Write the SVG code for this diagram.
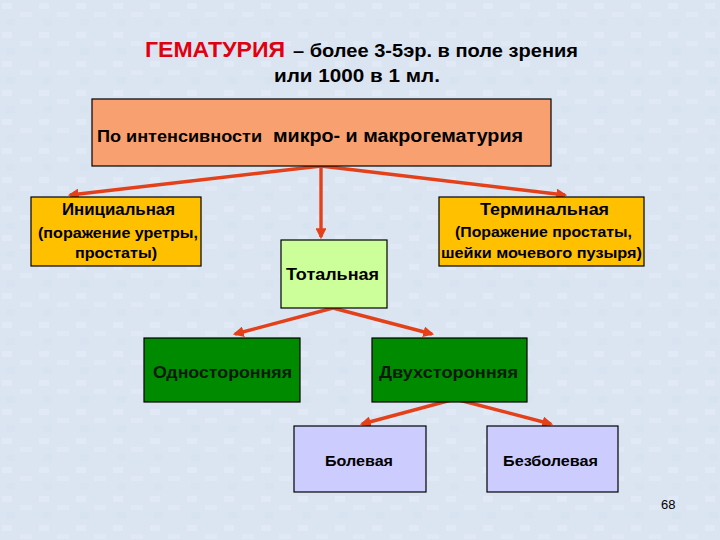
<svg xmlns="http://www.w3.org/2000/svg" width="720" height="540" viewBox="0 0 720 540">
<style>
text{font-family:"Liberation Sans",Arial,sans-serif;font-weight:bold;fill:#000}
.box{stroke:#000;stroke-width:1.2}
.conn line{stroke:#E4411B;stroke-width:3.4;marker-end:url(#ah)}
.dk{fill:#0A1A0A}
</style>
<defs>
<marker id="ah" viewBox="0 0 10 10" refX="8" refY="5" markerWidth="3.2" markerHeight="3.2" orient="auto" markerUnits="strokeWidth">
<path d="M0,0 L10,5 L0,10 z" fill="#E4411B"/>
</marker>
<pattern id="bg" width="37" height="29" patternUnits="userSpaceOnUse">
<rect width="37" height="29" fill="#DBE5F2"/>
<rect x="2" y="3" width="10" height="6" fill="#E0E9F5"/>
<rect x="20" y="12" width="12" height="5" fill="#DFE8F4"/>
<rect x="6" y="19" width="9" height="7" fill="#D8E3F1"/>
</pattern>
</defs>
<rect width="720" height="540" fill="url(#bg)"/>
<g id="title">
<text x="145" y="57" font-size="22" style="fill:#E00010" textLength="140" lengthAdjust="spacingAndGlyphs">ГЕМАТУРИЯ</text>
<text x="293" y="57" font-size="19" textLength="285" lengthAdjust="spacingAndGlyphs">– более 3-5эр. в поле зрения</text>
<text x="274" y="82" font-size="19" textLength="166" lengthAdjust="spacingAndGlyphs">или 1000 в 1 мл.</text>
</g>
<g class="conn">
<line x1="321" y1="166" x2="70" y2="195"/>
<line x1="321" y1="166" x2="565" y2="195"/>
<line x1="321" y1="166" x2="321" y2="237"/>
<line x1="333" y1="308" x2="235" y2="334"/>
<line x1="333" y1="308" x2="432" y2="334"/>
<line x1="455" y1="399" x2="362" y2="424"/>
<line x1="455" y1="399" x2="551" y2="424"/>
</g>
<g id="top">
<rect class="box" x="92" y="99" width="459" height="67" fill="#F9A070"/>
<text x="97" y="142" font-size="16" textLength="165" lengthAdjust="spacingAndGlyphs">По интенсивности</text>
<text x="273" y="142" font-size="18" textLength="250" lengthAdjust="spacingAndGlyphs">микро- и макрогематурия</text>
</g>
<g id="initial">
<rect class="box" x="31" y="197" width="170" height="69" fill="#FFC000"/>
<text x="62" y="215" font-size="16" textLength="113" lengthAdjust="spacingAndGlyphs">Инициальная</text>
<text x="38" y="238" font-size="14.5" textLength="160" lengthAdjust="spacingAndGlyphs">(поражение уретры,</text>
<text x="75" y="258" font-size="14.5" textLength="82" lengthAdjust="spacingAndGlyphs">простаты)</text>
</g>
<g id="terminal">
<rect class="box" x="439" y="197" width="205" height="69" fill="#FFC000"/>
<text x="480" y="215" font-size="16" textLength="129" lengthAdjust="spacingAndGlyphs">Терминальная</text>
<text x="455" y="237" font-size="14.5" textLength="177" lengthAdjust="spacingAndGlyphs">(Поражение простаты,</text>
<text x="441" y="258" font-size="14.5" textLength="201" lengthAdjust="spacingAndGlyphs">шейки мочевого пузыря)</text>
</g>
<g id="total">
<rect class="box" x="281" y="240" width="106" height="68" fill="#CCFF99"/>
<text x="286" y="280" font-size="16.5" textLength="93" lengthAdjust="spacingAndGlyphs">Тотальная</text>
</g>
<g id="uni">
<rect class="box" x="144" y="338" width="156" height="64" fill="#008A00"/>
<text x="153" y="378" font-size="16" class="dk" textLength="139" lengthAdjust="spacingAndGlyphs">Односторонняя</text>
</g>
<g id="bi">
<rect class="box" x="372" y="338" width="155" height="64" fill="#008A00"/>
<text x="379" y="378" font-size="16" class="dk" textLength="139" lengthAdjust="spacingAndGlyphs">Двухсторонняя</text>
</g>
<g id="pain">
<rect class="box" x="294" y="426" width="132" height="66" fill="#CCCCFF"/>
<text x="325" y="466" font-size="14.5" textLength="68" lengthAdjust="spacingAndGlyphs">Болевая</text>
</g>
<g id="painless">
<rect class="box" x="487" y="426" width="131" height="66" fill="#CCCCFF"/>
<text x="503" y="466" font-size="14.5" textLength="95" lengthAdjust="spacingAndGlyphs">Безболевая</text>
</g>
<text x="661" y="509" font-size="13" font-weight="normal" style="font-weight:normal">68</text>
</svg>
